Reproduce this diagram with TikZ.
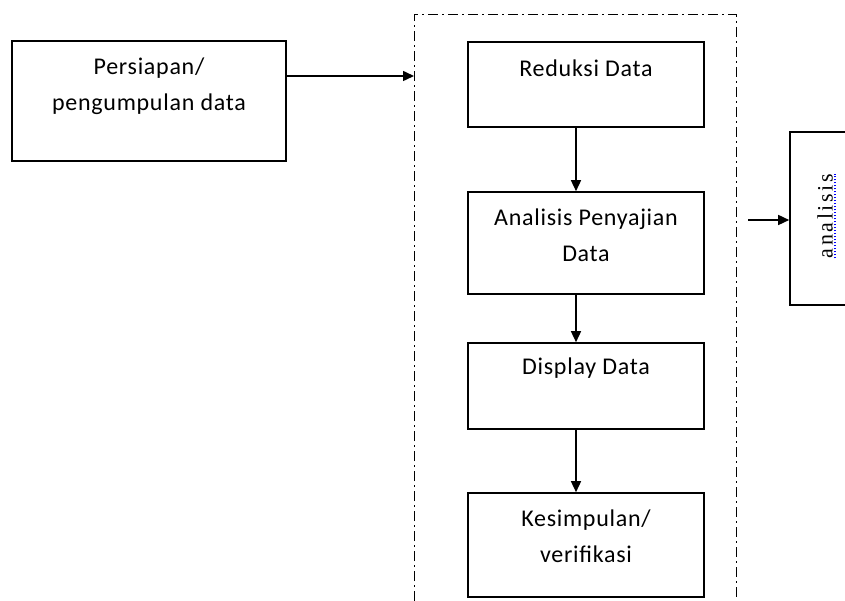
\documentclass[tikz,border=0pt]{standalone}
\usepackage{fontspec}
\newfontfamily\boxfont{Carlito}[LetterSpace=3]
\newfontfamily\serfont{Liberation Serif}[LetterSpace=12]
\usetikzlibrary{arrows.meta}

\begin{document}
\begin{tikzpicture}[x=1pt,y=-1pt,
  box/.style={draw,line width=1.6pt,minimum width=236pt},
  txt/.style={font={\boxfont\fontsize{24}{36}\selectfont},align=center,inner sep=0pt},
  arr/.style={line width=1.5pt,-{Triangle[length=11pt,width=10pt]}},
  frame/.style={line width=1pt,dash pattern=on 10pt off 4pt on 2pt off 4pt}]
\useasboundingbox (0,0) rectangle (845,601);
\node[box,minimum width=274pt,minimum height=120pt] (pers) at (149,101) {};
\node[txt,anchor=base] (persT) at ([yshift=-70pt]pers.north) {Persiapan/\\pengumpulan data};
\draw[frame](414,601)--(414,15)--(736,15)--(736,601);
\coordinate (frameIn) at (414,76);
\draw[arr] ([yshift=25pt]pers.east)--(frameIn);
\node[box,minimum height=85pt] (red) at (586,84.5) {};
\node[box,minimum height=102pt] (pen) at (586,243) {};
\node[box,minimum height=86pt] (dis) at (586,386) {};
\node[box,minimum height=104pt] (kes) at (586,545) {};
\node[txt,anchor=base] (redT) at ([yshift=-35pt]red.north) {Reduksi Data};
\node[txt,anchor=base] (penT) at ([yshift=-70pt]pen.north) {Analisis Penyajian\\Data};
\node[txt,anchor=base] (disT) at ([yshift=-32pt]dis.north) {Display Data};
\node[txt,anchor=base] (kesT) at ([yshift=-70pt]kes.north) {Kesimpulan/\\verifikasi};
\foreach\a/\b in {red/pen,pen/dis,dis/kes}{
    \draw[arr] ([xshift=-10pt]\a.south)--([xshift=-10pt]\b.north);
}
\node[box,minimum width=90pt,minimum height=173pt] (anaBox) at (835,218.5) {};
\node[inner sep=0pt,rotate=90,font={\serfont\fontsize{22}{26}\selectfont}] (anaT) at (825,216) {analisis};
\draw[blue,line width=1.5pt,dash pattern=on 1.5pt off 1.5pt] ([xshift=2pt]anaT.south west)--([xshift=2pt]anaT.south east);
\coordinate (outS) at (748,220);
\draw[arr] (outS)--(outS-|anaBox.west);
\end{tikzpicture}
\end{document}
